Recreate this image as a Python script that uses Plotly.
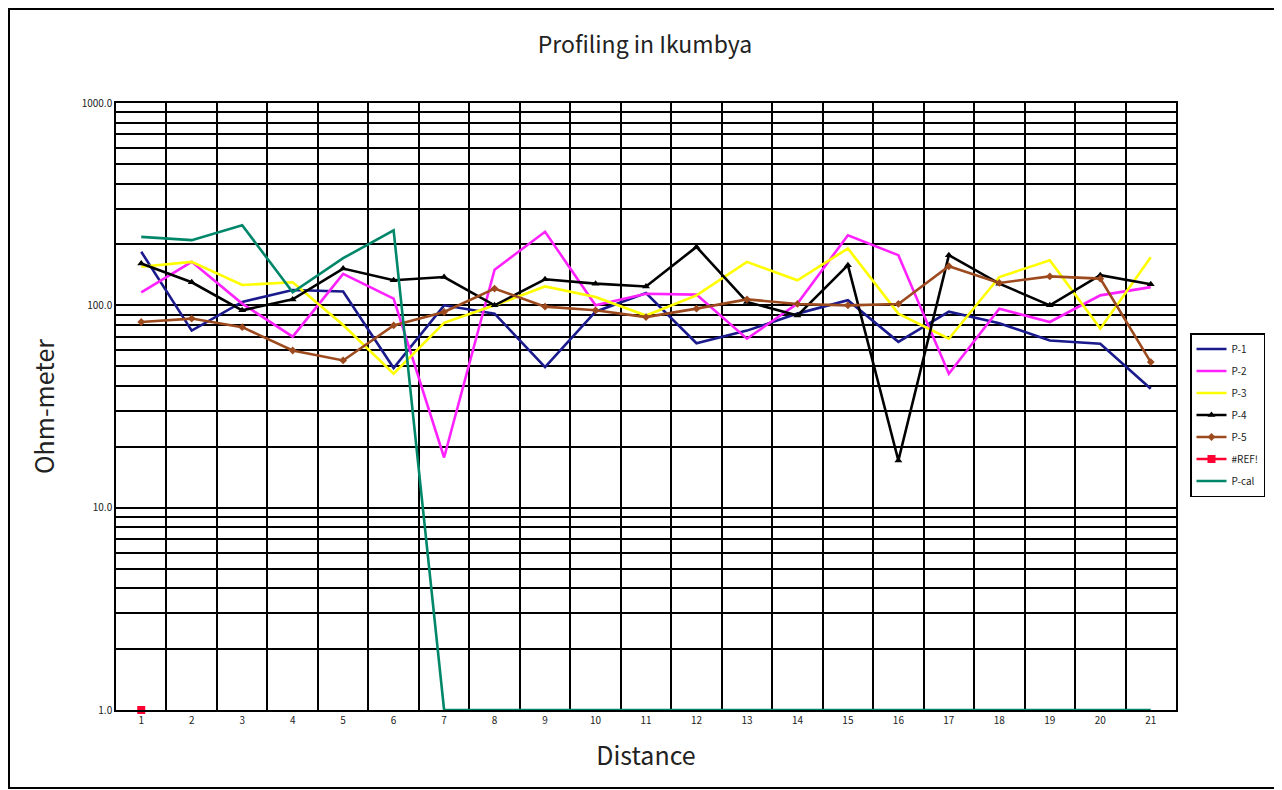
import plotly.graph_objects as go

distance = list(range(1, 22))
x_labels = [str(d) for d in distance]

p1 = [184, 75, 104, 119, 117, 49, 100, 91, 49.5, 93, 115, 65, 75, 91, 106, 66, 93, 81.5, 67, 64.6, 38.7]
p2 = [116, 164, 102, 70, 143, 108, 17.7, 150, 231, 100, 114, 113, 68.4, 102, 222, 177, 45.9, 96.3, 82.7, 112, 123]
p3 = [155, 164, 126, 130, 80, 46, 82, 100, 124, 110, 89, 112, 164, 133, 191, 91, 68.4, 138, 167, 76.7, 173]
p4 = [161, 130, 94.5, 107, 152, 133, 138, 100, 134.5, 128, 124, 194.5, 104, 89, 158, 17.1, 177, 128, 100, 141, 127]
p5 = [82.7, 86, 78, 59.8, 53.4, 79.6, 92.7, 121, 98.5, 94.5, 87.5, 96.3, 107, 101.6, 100, 101.6, 156, 129, 139, 135.5, 52.4]
ref_x = [1]
ref_y = [1.0]
pcal = [218, 210, 249, 116, 171, 235, 1, 1, 1, 1, 1, 1, 1, 1, 1, 1, 1, 1, 1, 1, 1]

y_major = [1, 10, 100, 1000]
y_labels = ["1.0", "10.0", "100.0", "1000.0"]
y_minor = [m * 10 ** e for e in range(0, 3) for m in range(2, 10)]
x_minor = [d + 0.5 for d in range(0, 22)]

W, H = 1274, 782
L, R, T, B = 108, 106, 95, 80
PW, PH = W - L - R, H - T - B

fig = go.Figure()

def add_line(name, y, color, symbol=None, msize=6):
    mode = "lines+markers" if symbol else "lines"
    fig.add_trace(go.Scatter(
        x=distance, y=y, name=name, mode=mode,
        line=dict(color=color, width=2.6),
        marker=dict(symbol=symbol or "circle", size=msize, color=color),
        legendgroup=name, cliponaxis=False,
    ))

add_line("P-1", p1, "#1a1a8c")
add_line("P-2", p2, "#ff22ff")
add_line("P-3", p3, "#ffff00")
add_line("P-4", p4, "#000000", "triangle-up", 7)
add_line("P-5", p5, "#9c4a1e", "diamond", 6)
fig.add_trace(go.Scatter(
    x=ref_x, y=ref_y, name="#REF!", mode="lines+markers",
    line=dict(color="#ff0033", width=2.6),
    marker=dict(symbol="square", size=8, color="#ff0033"),
    legendgroup="#REF!", cliponaxis=False,
))
add_line("P-cal", pcal, "#00876a")

fig.update_layout(
    width=W, height=H,
    margin=dict(l=L, r=R, t=T, b=B),
    paper_bgcolor="white", plot_bgcolor="white",
    font=dict(family="Noto Sans CJK JP, DejaVu Sans, sans-serif", color="black"),
    title=dict(text="Profiling in Ikumbya", x=0.5, xanchor="center",
               y=1 - 37 / H, yanchor="middle",
               font=dict(size=23, color="#222222")),
    showlegend=True,
    legend=dict(x=(1182 - L) / PW, y=(T + PH - 325) / PH, xanchor="left", yanchor="top",
                bordercolor="black", borderwidth=1.5, bgcolor="white",
                font=dict(size=10, color="#222222"), tracegroupgap=3,
                itemwidth=30),
    shapes=[dict(type="rect", xref="paper", yref="paper",
                 x0=(1 - L) / PW, x1=(1269 - L) / PW,
                 y0=(T + PH - 780) / PH, y1=(T + PH - 1) / PH,
                 line=dict(color="black", width=2), layer="below")],
)

fig.update_xaxes(
    range=[0.5, 21.5], tickvals=distance, ticktext=x_labels,
    showgrid=False, zeroline=False,
    showline=True, linecolor="black", linewidth=1.6, mirror=True,
    ticks="", tickfont=dict(size=10, color="#222222"),
    minor=dict(tickvals=x_minor, showgrid=True, gridcolor="black", gridwidth=1.6, ticks=""),
    title=dict(text="Distance", font=dict(size=25, color="#222222"), standoff=22),
)
fig.update_yaxes(
    type="log", range=[0, 3], tickvals=y_major, ticktext=y_labels,
    showgrid=True, gridcolor="black", gridwidth=1.6, zeroline=False,
    showline=True, linecolor="black", linewidth=1.6, mirror=True,
    ticks="", tickfont=dict(size=10, color="#222222"),
    minor=dict(tickvals=y_minor, showgrid=True, gridcolor="black", gridwidth=1.6, ticks=""),
    title=dict(text="Ohm-meter", font=dict(size=25, color="#222222"), standoff=20),
)

fig.write_html("out.html")
